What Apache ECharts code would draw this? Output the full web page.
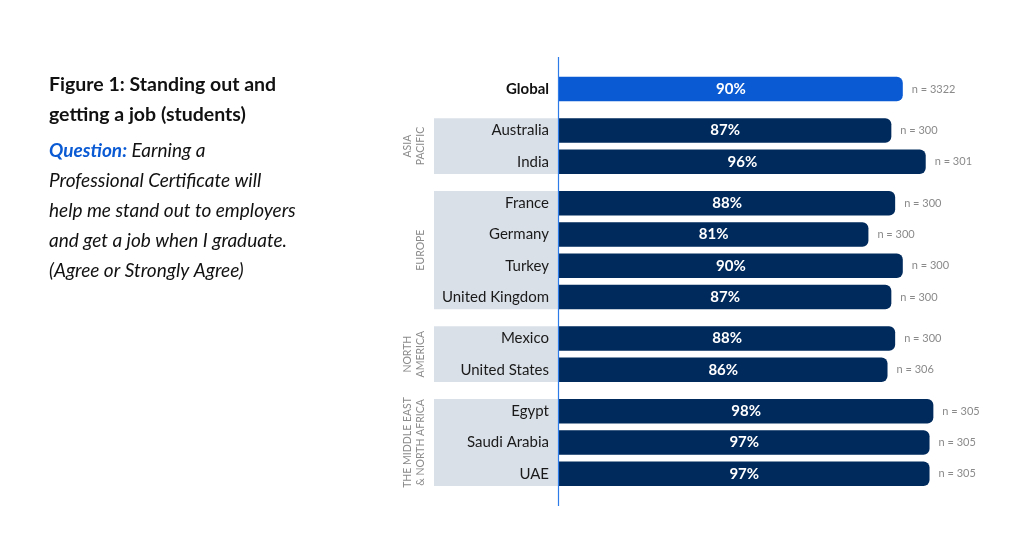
<!DOCTYPE html>
<html>
<head>
<meta charset="utf-8">
<script src="https://cdn.jsdelivr.net/npm/echarts@6/dist/echarts.min.js"></script>
<style>
  html, body { margin: 0; padding: 0; background: #fff; }
  #chart { width: 1024px; height: 559px; }
</style>
</head>
<body>
<div id="chart"></div>
<script>
// ---- data ----
var regions = ['', 'ASIA\nPACIFIC', 'EUROPE', 'NORTH\nAMERICA', 'THE MIDDLE EAST\n& NORTH AFRICA'];
var countries = [
  ['Global'],
  ['Australia', 'India'],
  ['France', 'Germany', 'Turkey', 'United Kingdom'],
  ['Mexico', 'United States'],
  ['Egypt', 'Saudi Arabia', 'UAE']
];
var agreePct = [
  [90],
  [87, 96],
  [88, 81, 90, 87],
  [88, 86],
  [98, 97, 97]
];
var sampleN = [
  [3322],
  [300, 301],
  [300, 300, 300, 300],
  [300, 306],
  [305, 305, 305]
];

// ---- layout ----
var FONT = 'Lato, "Noto Sans", sans-serif';
var ROW = 31.3, GAP = 10.1, TOP = 73.4, BAR = 24.5;
var LEFT = 559, WIDTH = 382;
var NAVY = '#012a5c', BLUE = '#0a5ad4';

var dom = document.getElementById('chart');
var myChart = echarts.init(dom, null, { renderer: 'canvas' });

var grids = [], xAxes = [], yAxes = [], series = [], graphics = [];
var rowTop = TOP;

countries.forEach(function (names, i) {
  var h = names.length * ROW;
  grids.push({ left: LEFT, width: WIDTH, top: rowTop, height: h });
  xAxes.push({
    gridIndex: i, type: 'value', min: 0, max: 100, show: false
  });
  yAxes.push({
    gridIndex: i, type: 'category', data: names, inverse: true,
    axisLine: { show: false }, axisTick: { show: false },
    axisLabel: {
      margin: 10, fontFamily: FONT, fontSize: 15, color: '#1a1a1a',
      formatter: function (v) { return v === 'Global' ? '{b|' + v + '}' : v; },
      rich: { b: { fontFamily: FONT, fontSize: 15, fontWeight: 'bold', color: '#111' } }
    }
  });
  series.push({
    type: 'bar', xAxisIndex: i, yAxisIndex: i, barWidth: BAR,
    data: agreePct[i],
    itemStyle: { color: i === 0 ? BLUE : NAVY, borderRadius: [0, 6, 6, 0] },
    label: {
      show: true, position: 'inside', formatter: '{c}%',
      fontFamily: FONT, fontSize: 15, fontWeight: 'bold', color: '#fff'
    },
    silent: true
  });
  // n = ... labels to the right of bars
  series.push({
    type: 'bar', xAxisIndex: i, yAxisIndex: i, barWidth: BAR, barGap: '-100%',
    data: agreePct[i],
    itemStyle: { color: 'transparent' },
    label: {
      show: true, position: 'right', distance: 9,
      formatter: function (p) { return 'n = ' + sampleN[i][p.dataIndex]; },
      fontFamily: FONT, fontSize: 11, color: '#8a8a8a'
    },
    silent: true
  });

  if (i > 0) {
    var pad = (ROW - BAR) / 2;
    graphics.push({
      type: 'rect', z: -10,
      shape: { x: 434, y: rowTop + pad, width: LEFT - 434, height: h - 2 * pad },
      style: { fill: '#dae0e8' }
    });
    var lines = regions[i].split('\n').length;
    graphics.push({
      type: 'text', rotation: Math.PI / 2,
      x: 421 - (lines - 1) * 6.5, y: rowTop + h / 2,
      style: {
        text: regions[i], fontFamily: FONT, fontSize: 10.5, fill: '#8a8a8a',
        align: 'center', verticalAlign: 'middle', lineHeight: 13
      }
    });
  }
  rowTop += h + GAP;
});

// vertical axis line
graphics.push({
  type: 'line', z: 10,
  shape: { x1: 558.5, y1: 57, x2: 558.5, y2: 506 },
  style: { stroke: '#2d7be8', lineWidth: 1.2 }
});

// left-hand title and question text
graphics.push({
  type: 'text', left: 49, top: 69,
  style: {
    text: 'Figure 1: Standing out and\ngetting a job (students)',
    fontFamily: FONT, fontSize: 19.5, fontWeight: 'bold', fill: '#111', lineHeight: 30.5
  }
});
graphics.push({
  type: 'text', left: 49, top: 136,
  style: {
    text: '{q|Question:} Earning a\nProfessional Certificate will\nhelp me stand out to employers\nand get a job when I graduate.\n(Agree or Strongly Agree)',
    fontFamily: FONT, fontSize: 19, fontStyle: 'italic', fill: '#111', lineHeight: 30,
    rich: {
      q: { fontFamily: FONT, fontSize: 19, fontStyle: 'italic', fontWeight: 'bold', fill: '#0a5ad4', lineHeight: 30 }
    }
  }
});

var option = {
  animation: false,
  grid: grids,
  xAxis: xAxes,
  yAxis: yAxes,
  series: series,
  graphic: graphics
};

if (option && typeof option === 'object') {
  myChart.setOption(option);
}
window.addEventListener('resize', myChart.resize);
</script>
</body>
</html>
